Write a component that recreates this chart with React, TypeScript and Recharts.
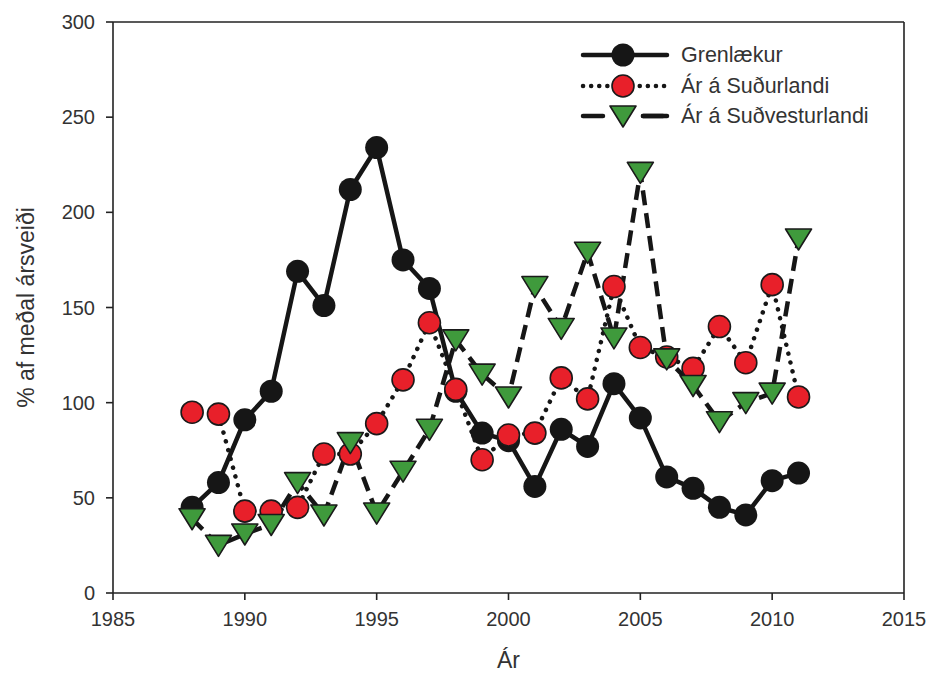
import { Line, LineChart, ReferenceLine, XAxis, YAxis } from "recharts";

const years = [
  1988, 1989, 1990, 1991, 1992, 1993, 1994, 1995, 1996, 1997, 1998, 1999,
  2000, 2001, 2002, 2003, 2004, 2005, 2006, 2007, 2008, 2009, 2010, 2011,
];
const grenlaekur = [45, 58, 91, 106, 169, 151, 212, 234, 175, 160, 106, 84, 80, 56, 86, 77, 110, 92, 61, 55, 45, 41, 59, 63];
const sudurland = [95, 94, 43, 43, 45, 73, 73, 89, 112, 142, 107, 70, 83, 84, 113, 102, 161, 129, 124, 118, 140, 121, 162, 103];
const sudvestur = [39, 25, 31, 36, 58, 41, 79, 42, 64, 86, 133, 115, 103, 161, 139, 179, 134, 221, 123, 109, 90, 100, 105, 186];

const xTicks = [1985, 1990, 1995, 2000, 2005, 2010, 2015];
const yTicks = [0, 50, 100, 150, 200, 250, 300];

const seriesNames = ["Grenlækur", "Ár á Suðurlandi", "Ár á Suðvesturlandi"];

const data = years.map((year, i) => ({
  year,
  gren: grenlaekur[i],
  sud: sudurland[i],
  sudv: sudvestur[i],
}));

const FONT = "'Liberation Sans', Arial, sans-serif";
const INK = "#222";
const RED = "#e8202a";
const GREEN = "#3f9a3c";

const blackDot = (cx: number, cy: number, key?: string) => (
  <circle key={key} cx={cx} cy={cy} r={11.5} fill="#161616" />
);
const redDot = (cx: number, cy: number, key?: string) => (
  <circle key={key} cx={cx} cy={cy} r={11} fill={RED} stroke="#1a1a1a" strokeWidth={1.6} />
);
const greenTri = (cx: number, cy: number, key?: string) => (
  <polygon
    key={key}
    points={`${cx - 13},${cy - 10} ${cx + 13},${cy - 10} ${cx},${cy + 11}`}
    fill={GREEN}
    stroke="#1a1a1a"
    strokeWidth={1.6}
    strokeLinejoin="round"
  />
);

// legend drawn as an overlay so it doesn't shrink the plot area
function ChartLegend() {
  const rows = [
    { y: 15, dash: undefined, marker: blackDot },
    { y: 46, dash: "0.1 8", marker: redDot },
    { y: 76, dash: "20 40", marker: greenTri },
  ];
  return (
    <svg width={340} height={100} style={{ position: "absolute", left: 580, top: 40, overflow: "visible" }}>
      {rows.map((r, i) => (
        <g key={i}>
          <line
            x1={3}
            x2={87}
            y1={r.y}
            y2={r.y}
            stroke="#161616"
            strokeWidth={4.5}
            strokeLinecap="round"
            strokeDasharray={r.dash}
          />
          {i === 2 && <line x1={63} x2={87} y1={r.y} y2={r.y} stroke="#161616" strokeWidth={4.5} strokeLinecap="round" />}
          {r.marker(43, r.y)}
          <text x={101} y={r.y + 7} fontSize={21.5} fontFamily={FONT} fill="#333">
            {seriesNames[i]}
          </text>
        </g>
      ))}
    </svg>
  );
}

export default function App() {
  return (
    <div style={{ position: "absolute", left: 0, top: 0, width: 932, height: 680, background: "#fff" }}>
      <LineChart width={932} height={680} data={data} margin={{ top: 22, right: 28, bottom: 0, left: 0 }}>
        <XAxis
          dataKey="year"
          type="number"
          domain={[1985, 2015]}
          ticks={xTicks}
          height={87}
          tickSize={7}
          tickMargin={12}
          stroke={INK}
          strokeWidth={1.6}
          tick={{ fill: "#333", fontSize: 20, fontFamily: FONT }}
          label={{ value: "Ár", position: "insideBottom", offset: 12, fill: "#333", fontSize: 23, fontFamily: FONT }}
        />
        <YAxis
          type="number"
          domain={[0, 300]}
          ticks={yTicks}
          width={113}
          tickSize={7}
          tickMargin={11}
          stroke={INK}
          strokeWidth={1.6}
          tick={{ fill: "#333", fontSize: 20, fontFamily: FONT }}
          label={{
            value: "% af meðal ársveiði",
            angle: -90,
            position: "insideLeft",
            offset: 26,
            style: { textAnchor: "middle" },
            fill: "#333",
            fontSize: 23,
            fontFamily: FONT,
          }}
        />
        <ReferenceLine y={300} stroke={INK} strokeWidth={1.6} />
        <ReferenceLine x={2015} stroke={INK} strokeWidth={1.6} />
        <Line
          dataKey="gren"
          name={seriesNames[0]}
          stroke="#161616"
          strokeWidth={4.5}
          isAnimationActive={false}
          dot={(p: any) => blackDot(p.cx, p.cy, `g${p.index}`)}
          activeDot={false}
        />
        <Line
          dataKey="sud"
          name={seriesNames[1]}
          stroke="#161616"
          strokeWidth={4.5}
          strokeDasharray="0.1 9"
          strokeLinecap="round"
          isAnimationActive={false}
          dot={(p: any) => redDot(p.cx, p.cy, `r${p.index}`)}
          activeDot={false}
        />
        <Line
          dataKey="sudv"
          name={seriesNames[2]}
          stroke="#161616"
          strokeWidth={4.5}
          strokeDasharray="15 8"
          isAnimationActive={false}
          dot={(p: any) => greenTri(p.cx, p.cy, `t${p.index}`)}
          activeDot={false}
        />
      </LineChart>
      <ChartLegend />
    </div>
  );
}
